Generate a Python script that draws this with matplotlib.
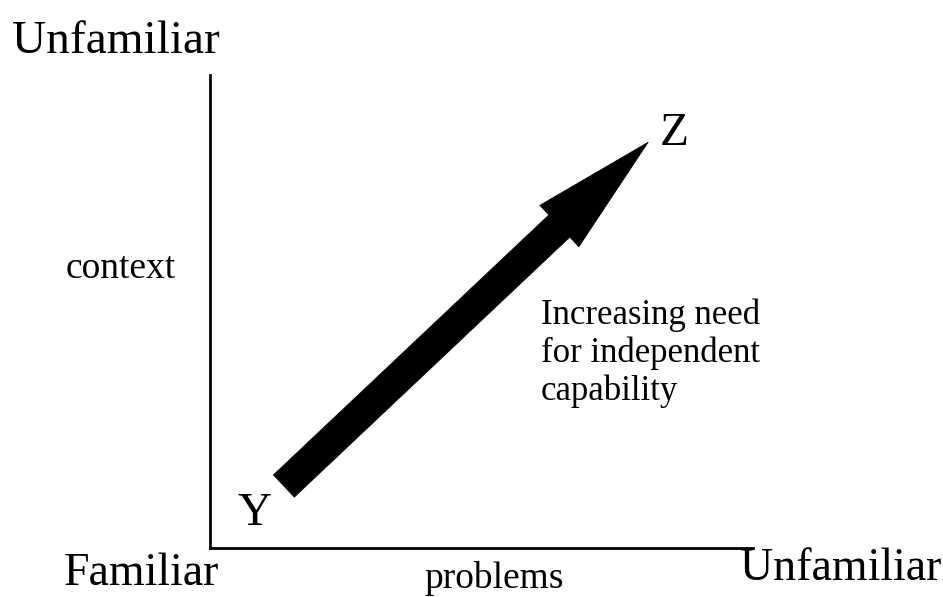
import matplotlib
matplotlib.use("Agg")
import matplotlib.pyplot as plt

# conceptual axes: 0 = familiar, 1 = unfamiliar
problems_range = [0, 1]
context_range = [0, 1]
point_y = (0.136, 0.131)   # start of the arrow (Y)
point_z = (0.807, 0.858)   # end of the arrow (Z)
arrow_note = "Increasing need\nfor independent\ncapability"

W, H = 943, 597
plt.rcParams['font.family'] = ['Liberation Serif', 'DejaVu Serif']

fig = plt.figure(figsize=(W / 100, H / 100), dpi=100)
ax = fig.add_axes([210 / W, 1 - 548 / H, (753 - 210) / W, (548 - 75) / H])
ax.set_xlim(problems_range)
ax.set_ylim(context_range)
ax.spines['top'].set_visible(False)
ax.spines['right'].set_visible(False)
ax.spines['left'].set_linewidth(2)
ax.spines['bottom'].set_linewidth(2)
ax.set_xticks([])
ax.set_yticks([])
ax.patch.set_alpha(0)

ax.annotate('', xy=point_z, xytext=point_y,
            arrowprops=dict(facecolor='black', edgecolor='black', lw=0.5,
                            width=22, headwidth=41, headlength=88, shrink=0))


def px_text(x, y, s, size, **kw):
    # x, y in pixels from top-left, y is the baseline
    fig.text(x / W, 1 - y / H, s, fontsize=size, va='baseline', ha='left', **kw)


px_text(12, 53, "Unfamiliar", 34)
px_text(66, 278, "context", 27)
px_text(64, 585, "Familiar", 33)
px_text(424, 588, "problems", 27)
px_text(740, 580, "Unfamiliar", 33)
px_text(237, 525, "Y", 34)
px_text(660, 145, "Z", 34)
# multi-line text: baseline alignment refers to the last line
px_text(541, 400, arrow_note, 25, linespacing=1.17)

fig.savefig("out.png", dpi=100)
